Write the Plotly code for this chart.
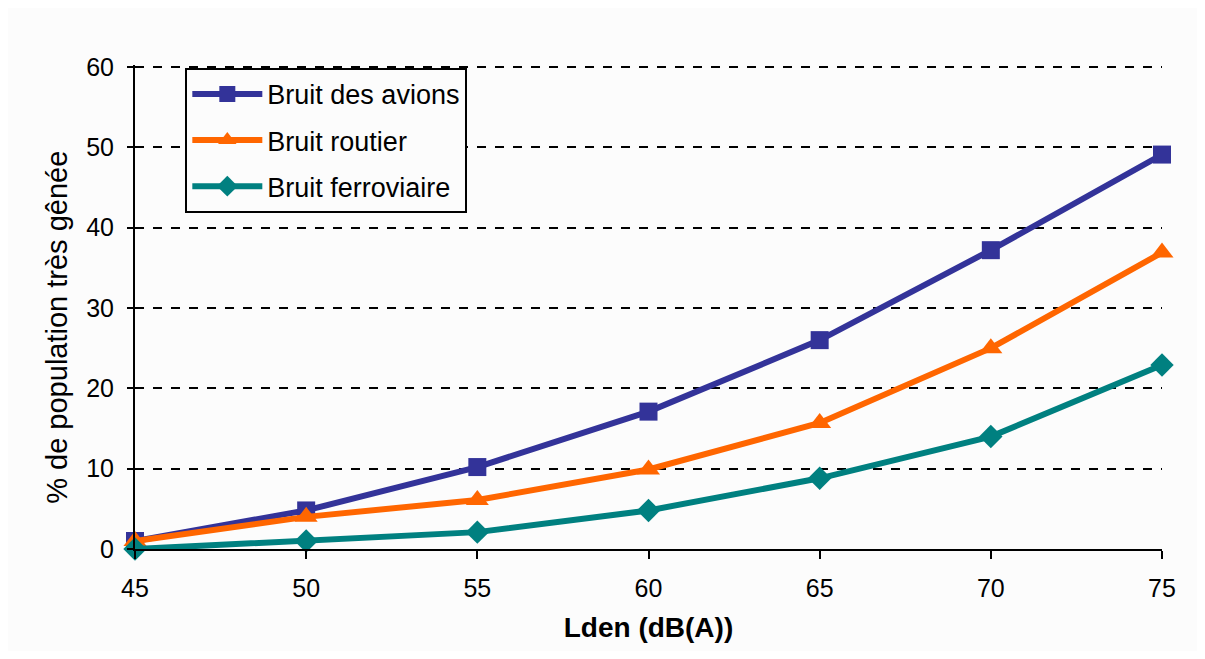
import plotly.graph_objects as go

lden = [45, 50, 55, 60, 65, 70, 75]
avions = [1, 4.8, 10.2, 17.1, 26, 37.2, 49.1]
routier = [1, 4, 6.1, 9.9, 15.7, 25, 36.9]
ferroviaire = [0, 1, 2.1, 4.8, 8.8, 14, 22.9]
y_ticks = [0, 10, 20, 30, 40, 50, 60]
x_ticks = [45, 50, 55, 60, 65, 70, 75]

BG = "#FCFCFC"
fig = go.Figure()
fig.add_trace(go.Scatter(x=lden, y=avions, name="Bruit des avions", mode="lines+markers",
                         legendgroup="a",
                         line=dict(color="#333399", width=6),
                         marker=dict(symbol="square", size=18, color="#333399"), cliponaxis=False))
fig.add_trace(go.Scatter(x=lden, y=routier, name="Bruit routier", mode="lines+markers",
                         legendgroup="b",
                         line=dict(color="#FF6600", width=6),
                         marker=dict(symbol="triangle-up", size=20, color="#FF6600"), cliponaxis=False))
fig.add_trace(go.Scatter(x=lden, y=ferroviaire, name="Bruit ferroviaire", mode="lines+markers",
                         legendgroup="c",
                         line=dict(color="#008080", width=6),
                         marker=dict(symbol="diamond", size=18, color="#008080"), cliponaxis=False))

fig.update_layout(
    width=1189, height=643,
    margin=dict(l=127, r=35, t=57, b=102, autoexpand=False),
    paper_bgcolor=BG, plot_bgcolor=BG,
    font=dict(family="Liberation Sans, Arial", size=25, color="black"),
    legend=dict(x=0.049, y=0.994, xanchor="left", yanchor="top",
                bgcolor=BG, bordercolor="black", borderwidth=2,
                font=dict(size=27), tracegroupgap=8, itemwidth=70),
    showlegend=True,
    annotations=[dict(text="% de population très gênée", textangle=-90,
                      xref="paper", yref="paper", x=-0.076, y=0.459,
                      xanchor="center", yanchor="middle", showarrow=False,
                      font=dict(size=29))],
)
fig.update_xaxes(range=[45, 75], tickvals=x_ticks, showgrid=False, zeroline=False,
                 automargin=False,
                 showline=True, linecolor="black", linewidth=2,
                 ticks="outside", ticklen=8, tickwidth=2, tickcolor="black",
                 ticklabelstandoff=8,
                 title=dict(text="<b>Lden (dB(A))</b>", font=dict(size=28), standoff=16))
fig.update_yaxes(range=[0, 60.25], tickvals=y_ticks, showgrid=True, gridcolor="black",
                 griddash="dash", gridwidth=2, zeroline=False,
                 automargin=False,
                 showline=True, linecolor="black", linewidth=2,
                 ticks="outside", ticklen=6, tickwidth=2, tickcolor="black",
                 ticklabelstandoff=8)

fig.write_html("out.html")
